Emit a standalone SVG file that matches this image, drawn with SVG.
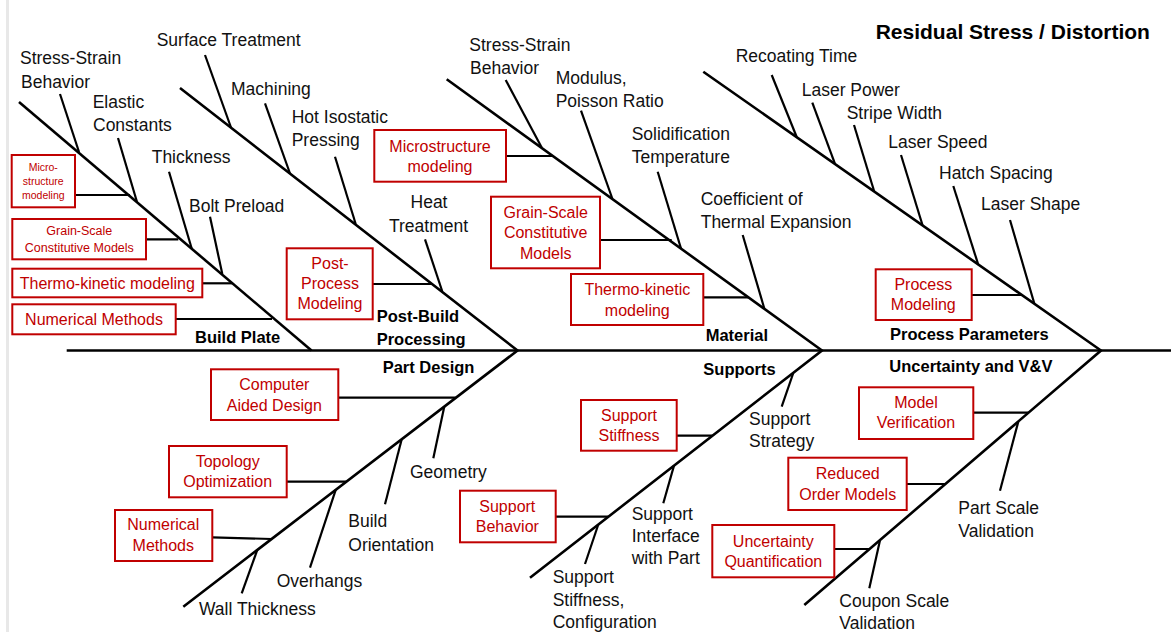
<svg xmlns="http://www.w3.org/2000/svg" width="1171" height="635" viewBox="0 0 1171 635">
  <style>
    .bone { stroke: #000; stroke-width: 2.6; fill: none; stroke-linecap: butt; }
    .twig { stroke: #000; stroke-width: 2.2; fill: none; }
    .box { fill: #fff; stroke: #C00000; stroke-width: 2; }
    .lbl { font-family: "Liberation Sans", Arial, sans-serif; font-size: 17.5px; fill: #111; }
    .cat { font-family: "Liberation Sans", Arial, sans-serif; font-size: 16.5px; font-weight: bold; fill: #000; }
    .red { font-family: "Liberation Sans", Arial, sans-serif; font-size: 16px; fill: #C00000; text-anchor: middle; }
    .red-sm { font-family: "Liberation Sans", Arial, sans-serif; font-size: 12.5px; fill: #C00000; text-anchor: middle; }
    .red-xs { font-family: "Liberation Sans", Arial, sans-serif; font-size: 10.5px; fill: #C00000; text-anchor: middle; }
  </style>

  <rect width="1171" height="635" fill="#fff"/>
  <rect x="6" y="0" width="3" height="632" fill="#E8E8E8"/>

  <text id="title" x="875.7" y="39" font-family="'Liberation Sans', Arial, sans-serif" font-size="21" font-weight="bold">Residual Stress / Distortion</text>

  <!-- spine, main bones, cause twigs and box leaders -->
  <g id="connectors">
    <path class="bone" d="M66.7,350.5 H1171"/>
    <path class="bone" d="M19,102 L311.5,350.5"/>
    <path class="bone" d="M180,88 L517.5,350.5 L183.3,606.7"/>
    <path class="bone" d="M446.7,79.3 L822,350.5 L530,577.7"/>
    <path class="bone" d="M703.3,71.7 L1101,350.5 L804.3,605"/>

    <!-- Build Plate -->
    <line class="twig" x1="60" y1="94" x2="79" y2="152"/>
    <line class="twig" x1="118" y1="138" x2="137" y2="202"/>
    <line class="twig" x1="169" y1="171.7" x2="191.7" y2="248.5"/>
    <line class="twig" x1="210" y1="216.7" x2="222.3" y2="274"/>
    <line class="twig" x1="75" y1="195" x2="130" y2="195"/>
    <line class="twig" x1="146" y1="239.3" x2="178.3" y2="239.3"/>
    <line class="twig" x1="202.3" y1="283.3" x2="232.3" y2="283.3"/>
    <line class="twig" x1="175.7" y1="319" x2="272" y2="319"/>

    <!-- Post-Build Processing -->
    <line class="twig" x1="205" y1="55" x2="231" y2="127.5"/>
    <line class="twig" x1="265" y1="103.3" x2="290" y2="173.5"/>
    <line class="twig" x1="335" y1="156.7" x2="355.7" y2="224"/>
    <line class="twig" x1="425" y1="239.3" x2="442.3" y2="291.5"/>
    <line class="twig" x1="372.7" y1="284" x2="433" y2="284"/>

    <!-- Material -->
    <line class="twig" x1="505.7" y1="80" x2="541.7" y2="147.5"/>
    <line class="twig" x1="581" y1="110.7" x2="612.3" y2="198.5"/>
    <line class="twig" x1="657.7" y1="171.7" x2="681" y2="248.5"/>
    <line class="twig" x1="742.7" y1="235" x2="764.3" y2="308.5"/>
    <line class="twig" x1="506" y1="156" x2="552.7" y2="156"/>
    <line class="twig" x1="600" y1="240" x2="671.7" y2="240"/>
    <line class="twig" x1="703.3" y1="297.3" x2="748.3" y2="297.3"/>

    <!-- Process Parameters -->
    <line class="twig" x1="771.7" y1="75" x2="796.7" y2="137"/>
    <line class="twig" x1="812.3" y1="102.7" x2="835" y2="163.8"/>
    <line class="twig" x1="854" y1="125" x2="874.3" y2="191.7"/>
    <line class="twig" x1="901" y1="155" x2="922.7" y2="225.8"/>
    <line class="twig" x1="953.3" y1="186" x2="978.3" y2="264.8"/>
    <line class="twig" x1="1010" y1="220" x2="1034.3" y2="303.5"/>
    <line class="twig" x1="971.7" y1="295" x2="1021.7" y2="295"/>

    <!-- Part Design -->
    <line class="twig" x1="338.3" y1="397.7" x2="455.5" y2="397.7"/>
    <line class="twig" x1="444.3" y1="406.6" x2="433.3" y2="458.3"/>
    <line class="twig" x1="401.7" y1="439.3" x2="385" y2="504.3"/>
    <line class="twig" x1="286.7" y1="481.7" x2="346.4" y2="481.7"/>
    <line class="twig" x1="335.7" y1="489.9" x2="310" y2="567.7"/>
    <line class="twig" x1="212.3" y1="537.3" x2="271.6" y2="539"/>
    <line class="twig" x1="257.3" y1="550" x2="241.7" y2="593.3"/>

    <!-- Supports -->
    <line class="twig" x1="793.3" y1="373" x2="781.7" y2="406.7"/>
    <line class="twig" x1="676.7" y1="435.7" x2="712.5" y2="435.7"/>
    <line class="twig" x1="674" y1="465.6" x2="663.3" y2="503.3"/>
    <line class="twig" x1="555.7" y1="516.7" x2="608.4" y2="516.7"/>
    <line class="twig" x1="598.3" y1="524.5" x2="585" y2="564"/>

    <!-- Uncertainty and V&V -->
    <line class="twig" x1="973.3" y1="412.7" x2="1028.5" y2="412.7"/>
    <line class="twig" x1="1018.3" y1="421.6" x2="1000" y2="490.7"/>
    <line class="twig" x1="906.7" y1="484" x2="945.4" y2="484"/>
    <line class="twig" x1="834.3" y1="549" x2="869.6" y2="549"/>
    <line class="twig" x1="880" y1="540.3" x2="869.3" y2="588.3"/>
  </g>

  <!-- Build Plate -->
  <g id="build-plate">
    <text class="cat" x="195" y="343">Build Plate</text>
    <text class="lbl" x="20" y="64">Stress-Strain</text>
    <text class="lbl" x="21" y="88">Behavior</text>
    <text class="lbl" x="92.7" y="108">Elastic</text>
    <text class="lbl" x="93" y="131">Constants</text>
    <text class="lbl" x="151.7" y="163.3">Thickness</text>
    <text class="lbl" x="189" y="212.3">Bolt Preload</text>
  </g>
  <g id="bp-microstructure">
    <rect class="box" x="11.7" y="155" width="63.3" height="52.3"/>
    <text class="red-xs" x="43.3" y="170.5">Micro-</text>
    <text class="red-xs" x="43.3" y="184.5">structure</text>
    <text class="red-xs" x="43.3" y="198.5">modeling</text>
  </g>
  <g id="bp-grain-scale">
    <rect class="box" x="12.3" y="219" width="133.7" height="40.3"/>
    <text class="red-sm" x="79.3" y="235">Grain-Scale</text>
    <text class="red-sm" x="79.3" y="252">Constitutive Models</text>
  </g>
  <g id="bp-thermo-kinetic">
    <rect class="box" x="12.3" y="268.7" width="190" height="28.6"/>
    <text class="red" x="107.3" y="288.5" font-size="15.5">Thermo-kinetic modeling</text>
  </g>
  <g id="bp-numerical">
    <rect class="box" x="12.3" y="304.3" width="163.4" height="30"/>
    <text class="red" x="94" y="325">Numerical Methods</text>
  </g>

  <!-- Post-Build Processing -->
  <g id="post-build">
    <text class="cat" x="376.7" y="321.7">Post-Build</text>
    <text class="cat" x="376.7" y="345">Processing</text>
    <text class="lbl" x="156.7" y="46">Surface Treatment</text>
    <text class="lbl" x="231" y="95">Machining</text>
    <text class="lbl" x="291.7" y="123.3">Hot Isostatic</text>
    <text class="lbl" x="291.7" y="146.3">Pressing</text>
    <text class="lbl" x="429" y="208.3" text-anchor="middle">Heat</text>
    <text class="lbl" x="389" y="231.7">Treatment</text>
  </g>
  <g id="pb-post-process">
    <rect class="box" x="286.7" y="248.3" width="86" height="71"/>
    <text class="red" x="330" y="269.3">Post-</text>
    <text class="red" x="330" y="289.3">Process</text>
    <text class="red" x="330" y="309.3">Modeling</text>
  </g>

  <!-- Material -->
  <g id="material">
    <text class="cat" x="705.7" y="340.7">Material</text>
    <text class="lbl" x="469.3" y="50.7">Stress-Strain</text>
    <text class="lbl" x="470" y="73.5">Behavior</text>
    <text class="lbl" x="555.7" y="84">Modulus,</text>
    <text class="lbl" x="555.7" y="107.3">Poisson Ratio</text>
    <text class="lbl" x="631.7" y="140">Solidification</text>
    <text class="lbl" x="631.7" y="162.7">Temperature</text>
    <text class="lbl" x="700.7" y="205">Coefficient of</text>
    <text class="lbl" x="700.7" y="228.3">Thermal Expansion</text>
  </g>
  <g id="mat-microstructure">
    <rect class="box" x="374.3" y="130" width="131.7" height="51.7"/>
    <text class="red" x="440" y="151.7">Microstructure</text>
    <text class="red" x="440" y="171.7">modeling</text>
  </g>
  <g id="mat-grain-scale">
    <rect class="box" x="491" y="196.7" width="109" height="71.6"/>
    <text class="red" x="545.7" y="218.3">Grain-Scale</text>
    <text class="red" x="545.7" y="238.3">Constitutive</text>
    <text class="red" x="545.7" y="259">Models</text>
  </g>
  <g id="mat-thermo-kinetic">
    <rect class="box" x="571" y="274" width="132.3" height="51"/>
    <text class="red" x="637.3" y="295">Thermo-kinetic</text>
    <text class="red" x="637.3" y="315.7">modeling</text>
  </g>

  <!-- Process Parameters -->
  <g id="process-parameters">
    <text class="cat" x="890" y="340">Process Parameters</text>
    <text class="lbl" x="735.7" y="62.3">Recoating Time</text>
    <text class="lbl" x="801.7" y="95.7">Laser Power</text>
    <text class="lbl" x="846.7" y="119">Stripe Width</text>
    <text class="lbl" x="888.3" y="147.7">Laser Speed</text>
    <text class="lbl" x="939" y="179.3">Hatch Spacing</text>
    <text class="lbl" x="981" y="210">Laser Shape</text>
  </g>
  <g id="pp-process-modeling">
    <rect class="box" x="875.7" y="269.3" width="96" height="50.7"/>
    <text class="red" x="923.3" y="290">Process</text>
    <text class="red" x="923.3" y="310">Modeling</text>
  </g>

  <!-- Part Design -->
  <g id="part-design">
    <text class="cat" x="382.7" y="373.3">Part Design</text>
    <text class="lbl" x="410" y="478.3">Geometry</text>
    <text class="lbl" x="348.3" y="527.3">Build</text>
    <text class="lbl" x="348.3" y="550.7">Orientation</text>
    <text class="lbl" x="276.7" y="586.7">Overhangs</text>
    <text class="lbl" x="199" y="615">Wall Thickness</text>
  </g>
  <g id="pd-cad">
    <rect class="box" x="211" y="369.3" width="127.3" height="50.7"/>
    <text class="red" x="274.3" y="390">Computer</text>
    <text class="red" x="274.3" y="410.7">Aided Design</text>
  </g>
  <g id="pd-topology">
    <rect class="box" x="169" y="446" width="117.7" height="51.3"/>
    <text class="red" x="227.7" y="466.7">Topology</text>
    <text class="red" x="227.7" y="486.7">Optimization</text>
  </g>
  <g id="pd-numerical">
    <rect class="box" x="115" y="510" width="97.3" height="51"/>
    <text class="red" x="163.3" y="530">Numerical</text>
    <text class="red" x="163.3" y="550.7">Methods</text>
  </g>

  <!-- Supports -->
  <g id="supports">
    <text class="cat" x="703.3" y="375">Supports</text>
    <text class="lbl" x="749" y="425">Support</text>
    <text class="lbl" x="749" y="447.3">Strategy</text>
    <text class="lbl" x="631.7" y="520">Support</text>
    <text class="lbl" x="631.7" y="541.7">Interface</text>
    <text class="lbl" x="631.7" y="564">with Part</text>
    <text class="lbl" x="552.7" y="583.3">Support</text>
    <text class="lbl" x="552.7" y="606">Stiffness,</text>
    <text class="lbl" x="552.7" y="628.3">Configuration</text>
  </g>
  <g id="sup-stiffness">
    <rect class="box" x="581" y="400" width="95.7" height="50.7"/>
    <text class="red" x="629" y="421">Support</text>
    <text class="red" x="629" y="441">Stiffness</text>
  </g>
  <g id="sup-behavior">
    <rect class="box" x="460" y="490.7" width="95.7" height="51.6"/>
    <text class="red" x="507.3" y="512.3">Support</text>
    <text class="red" x="507.3" y="532.3">Behavior</text>
  </g>

  <!-- Uncertainty and V&V -->
  <g id="uncertainty-vv">
    <text class="cat" x="889.3" y="371.7">Uncertainty and V&amp;V</text>
    <text class="lbl" x="958.3" y="514">Part Scale</text>
    <text class="lbl" x="958.3" y="537.3">Validation</text>
    <text class="lbl" x="839.3" y="606.7">Coupon Scale</text>
    <text class="lbl" x="839.3" y="629.3">Validation</text>
  </g>
  <g id="uv-model-verification">
    <rect class="box" x="859" y="387.3" width="114.3" height="51.7"/>
    <text class="red" x="916" y="408.3">Model</text>
    <text class="red" x="916" y="428.3">Verification</text>
  </g>
  <g id="uv-reduced-order">
    <rect class="box" x="788.3" y="457.7" width="118.4" height="52.3"/>
    <text class="red" x="847.7" y="479.3">Reduced</text>
    <text class="red" x="847.7" y="500">Order Models</text>
  </g>
  <g id="uv-uq">
    <rect class="box" x="712.3" y="525" width="122" height="52.3"/>
    <text class="red" x="773.3" y="546.7">Uncertainty</text>
    <text class="red" x="773.3" y="567.3">Quantification</text>
  </g>
</svg>
